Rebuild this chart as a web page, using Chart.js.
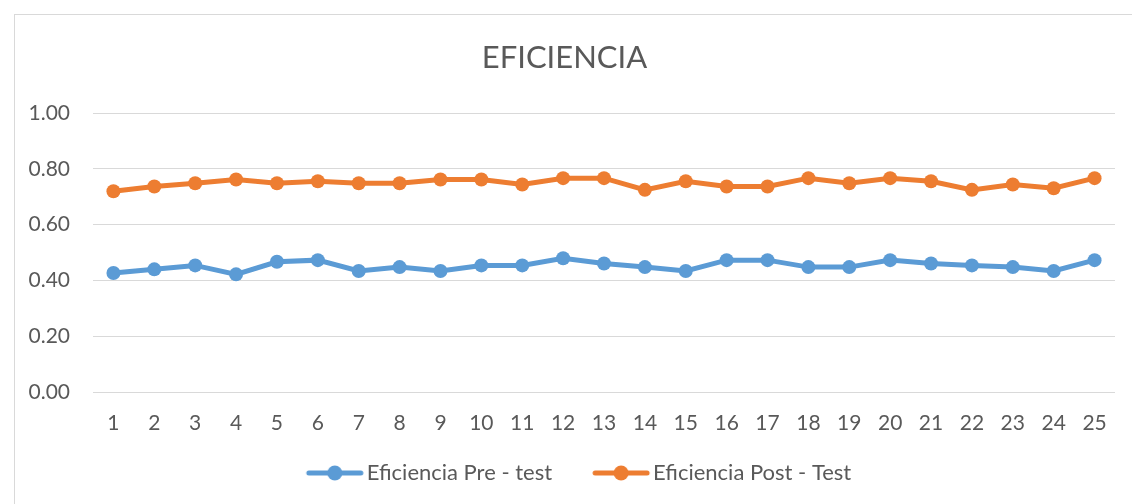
<!DOCTYPE html>
<html>
<head>
<meta charset="utf-8">
<script src="https://cdn.jsdelivr.net/npm/chart.js@4"></script>
<style>
    html, body { margin: 0; padding: 0; background: #fff; }
    #frame { position: absolute; left: 14px; top: 14px; width: 1130px; height: 500px; border: 1px solid #d9d9d9; }
    #wrap { position: absolute; left: 0; top: 0; width: 1132px; height: 504px; }
</style>
</head>
<body>
<div id="frame"></div>
<div id="wrap"><canvas id="chart" width="1132" height="504"></canvas></div>
<script>
// datos
const categorias = ['1','2','3','4','5','6','7','8','9','10','11','12','13','14','15','16','17','18','19','20','21','22','23','24','25'];
const preTest  = [0.427,0.440,0.454,0.422,0.467,0.473,0.434,0.448,0.434,0.454,0.454,0.480,0.461,0.448,0.434,0.473,0.473,0.448,0.448,0.473,0.461,0.454,0.448,0.434,0.473];
const postTest = [0.720,0.737,0.749,0.762,0.749,0.756,0.749,0.749,0.762,0.762,0.744,0.767,0.767,0.725,0.756,0.737,0.737,0.767,0.749,0.767,0.756,0.725,0.744,0.731,0.767];
const yTicks = [0, 0.2, 0.4, 0.6, 0.8, 1.0];

const AZUL = '#5B9BD5';
const NARANJA = '#ED7D31';
const GRIS = '#595959';
const FUENTE = 'Lato, "Open Sans", sans-serif';

// marcador de leyenda: linea con punto (desplazado a la derecha para acercarlo al texto)
function marcador(color) {
    const c = document.createElement('canvas');
    c.width = 68; c.height = 16;
    const ctx = c.getContext('2d');
    ctx.strokeStyle = color;
    ctx.lineWidth = 5;
    ctx.lineCap = 'round';
    ctx.beginPath();
    ctx.moveTo(12, 8); ctx.lineTo(64, 8);
    ctx.stroke();
    ctx.fillStyle = color;
    ctx.beginPath();
    ctx.arc(38, 8, 7.5, 0, Math.PI * 2);
    ctx.fill();
    return c;
}

// ajustes finos despues del layout: leyenda a la derecha, etiquetas X sin recorte
const ajustes = {
    id: 'ajustes',
    afterLayout(chart) {
        chart.legend.left += 14;
        chart.legend.right += 14;
        chart.scales.x.bottom += 20;
        chart.scales.x.height += 20;
    }
};

const ctx = document.getElementById('chart').getContext('2d');
new Chart(ctx, {
    type: 'line',
    data: {
        labels: categorias,
        datasets: [{
            label: 'Eficiencia Pre - test',
            data: preTest,
            borderColor: AZUL,
            backgroundColor: AZUL,
            borderWidth: 5,
            pointRadius: 7,
            pointBorderWidth: 0,
            pointStyle: 'circle',
            tension: 0
        }, {
            label: 'Eficiencia Post - Test',
            data: postTest,
            borderColor: NARANJA,
            backgroundColor: NARANJA,
            borderWidth: 5,
            pointRadius: 7,
            pointBorderWidth: 0,
            pointStyle: 'circle',
            tension: 0
        }]
    },
    plugins: [ajustes],
    options: {
        responsive: false,
        animation: false,
        layout: { padding: { top: 14, left: 14, right: 17, bottom: 10 } },
        plugins: {
            title: {
                display: true,
                text: 'EFICIENCIA',
                color: GRIS,
                font: { family: FUENTE, size: 31, weight: 'normal' },
                padding: { top: 25, bottom: 37 }
            },
            legend: {
                position: 'bottom',
                labels: {
                    color: GRIS,
                    font: { family: FUENTE, size: 22 },
                    usePointStyle: true,
                    pointStyleWidth: 50,
                    padding: 40,
                    generateLabels: function(chart) {
                        return chart.data.datasets.map((ds, i) => ({
                            text: ds.label,
                            fillStyle: ds.borderColor,
                            strokeStyle: ds.borderColor,
                            lineWidth: 0,
                            pointStyle: marcador(ds.borderColor),
                            fontColor: GRIS,
                            datasetIndex: i
                        }));
                    }
                }
            },
            tooltip: { enabled: false }
        },
        scales: {
            x: {
                offset: true,
                afterFit: function(scale) { scale.height = 30; },
                grid: { display: false, drawTicks: false },
                border: { display: false },
                ticks: {
                    color: GRIS,
                    font: { family: FUENTE, size: 21 },
                    padding: 19,
                    maxRotation: 0,
                    autoSkip: false
                }
            },
            y: {
                min: 0,
                max: 1,
                afterFit: function(scale) { scale.width = 79; },
                afterBuildTicks: function(scale) {
                    scale.ticks = yTicks.map(v => ({ value: v }));
                },
                grid: { color: '#d9d9d9', lineWidth: 1, drawTicks: false },
                border: { display: false },
                ticks: {
                    color: GRIS,
                    font: { family: FUENTE, size: 21 },
                    padding: 23,
                    callback: v => Number(v).toFixed(2)
                }
            }
        }
    }
});
</script>
</body>
</html>
